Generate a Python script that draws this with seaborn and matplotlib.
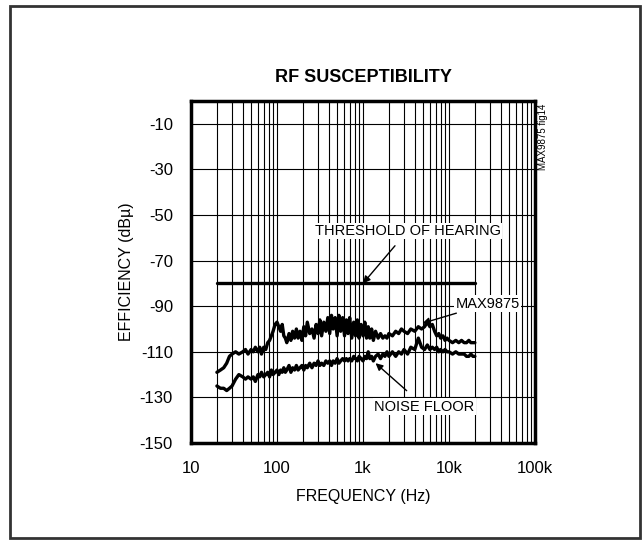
import matplotlib
matplotlib.use("Agg")
import matplotlib.pyplot as plt
import matplotlib.ticker as mticker
from matplotlib.patches import Rectangle
import pandas as pd
import seaborn as sns

# frequency points (Hz) shared by both measured curves
freq = [20, 22, 24, 26, 28, 30, 33, 36, 40, 43, 46, 50, 53, 56, 60, 63, 66, 70, 74, 78,
        82, 86, 90, 95, 100, 105, 110, 115, 120, 125, 130, 138, 145, 152, 160, 168, 176,
        185, 195, 205, 215, 225, 240, 255, 270, 285, 300, 315, 330, 350, 370, 390, 410,
        430, 450, 475, 500, 525, 550, 580, 610, 640, 670, 700, 740, 780, 820, 860, 900,
        950, 1000, 1050, 1100, 1150, 1200, 1260, 1320, 1400, 1500, 1600, 1700, 1800, 1900,
        2000, 2200, 2400, 2600, 2800, 3000, 3300, 3600, 4000, 4400, 4800, 5200, 5600, 6000,
        6400, 6800, 7200, 7600, 8000, 8500, 9000, 9500, 10000, 11000, 12000, 13000, 14000,
        15000, 16000, 17000, 18000, 19000, 20000]

max9875 = [-119, -118, -117, -115, -112, -111, -110, -111, -110, -109, -111, -109, -110,
           -108, -110, -108, -111, -108, -109, -106, -105, -103, -101, -98, -97, -99, -101,
           -98, -103, -104, -106, -102, -105, -101, -104, -100, -104, -101, -105, -99, -103,
           -97, -102, -100, -104, -98, -102, -96, -103, -97, -101, -95, -102, -94, -100,
           -95, -103, -94, -101, -95, -103, -96, -102, -95, -104, -97, -103, -96, -104,
           -98, -103, -97, -104, -99, -104, -100, -105, -101, -104, -102, -104, -103, -104,
           -102, -103, -101, -102, -100, -101, -102, -100, -101, -99, -100, -99, -97, -99,
           -98, -101, -103, -102, -104, -103, -105, -104, -105, -106, -105, -106, -105,
           -106, -106, -105, -106, -106, -106]

noise_floor = [-125, -126, -126, -127, -126, -125, -122, -120, -121, -122, -121, -122, -121,
               -123, -120, -121, -119, -121, -120, -119, -121, -118, -120, -119, -118, -120,
               -118, -119, -117, -119, -118, -116, -119, -117, -118, -116, -118, -117, -116,
               -118, -116, -117, -115, -117, -115, -116, -114, -116, -115, -116, -114, -115,
               -114, -116, -114, -115, -113, -115, -114, -113, -114, -113, -114, -113, -114,
               -112, -113, -114, -112, -113, -114, -112, -113, -110, -113, -112, -114, -112,
               -111, -113, -111, -112, -110, -112, -110, -112, -110, -111, -109, -111, -108,
               -109, -104, -108, -109, -107, -109, -108, -109, -108, -110, -109, -110, -109,
               -110, -110, -111, -110, -111, -111, -111, -112, -112, -111, -112, -112]

threshold_freq = [20, 20000]
threshold_db = [-80, -80]

y_ticks = [-150, -130, -110, -90, -70, -50, -30, -10]
x_ticks = [10, 100, 1000, 10000, 100000]
x_tick_labels = ["10", "100", "1k", "10k", "100k"]

sns.set_style("white")
plt.rcParams["font.family"] = ["Liberation Sans", "DejaVu Sans"]
plt.rcParams["axes.unicode_minus"] = False
for key in ["text.color", "axes.labelcolor", "xtick.color", "ytick.color"]:
    plt.rcParams[key] = "black"

df_meas = pd.DataFrame({"freq": freq + freq,
                        "db": max9875 + noise_floor,
                        "series": ["MAX9875"] * len(freq) + ["NOISE FLOOR"] * len(freq)})
df_thr = pd.DataFrame({"freq": threshold_freq, "db": threshold_db})

fig = plt.figure(figsize=(6.44, 5.44), dpi=100)
ax = fig.add_axes([0.2966, 0.1857, 0.5341, 0.6286])

sns.lineplot(data=df_meas, x="freq", y="db", units="series", estimator=None,
             color="black", lw=2.4, ax=ax, sort=False)
sns.lineplot(data=df_thr, x="freq", y="db", color="black", lw=2.4, ax=ax)

ax.set_xscale("log")
ax.set_xlim(10, 100000)
ax.set_ylim(-150, 0)
ax.set_xticks(x_ticks)
ax.set_xticklabels(x_tick_labels)
ax.xaxis.set_minor_locator(mticker.LogLocator(base=10, subs=range(2, 10)))
ax.xaxis.set_minor_formatter(mticker.NullFormatter())
ax.set_yticks(y_ticks)
ax.grid(True, which="both", color="black", lw=0.8)
ax.tick_params(axis="both", which="both", length=0, labelsize=12, pad=13)
for s in ax.spines.values():
    s.set_linewidth(2.5)
    s.set_color("black")

ax.set_xlabel("FREQUENCY (Hz)", fontsize=11.5, labelpad=9)
ax.set_ylabel("EFFICIENCY (dBµ)", fontsize=11.5, labelpad=4)
ax.set_title("RF SUSCEPTIBILITY", fontsize=13, fontweight="bold", pad=14)

box = dict(facecolor="white", edgecolor="none", pad=1)
ax.annotate("THRESHOLD OF HEARING", xy=(1000, -80), xytext=(3300, -57),
            ha="center", va="center", fontsize=10.5, bbox=box,
            arrowprops=dict(arrowstyle="-|>", color="black", lw=1, shrinkA=6, shrinkB=0))
ax.annotate("MAX9875", xy=(4900, -97.5), xytext=(28000, -89),
            ha="center", va="center", fontsize=10.5, bbox=box,
            arrowprops=dict(arrowstyle="-|>", color="black", lw=1, shrinkA=2, shrinkB=0))
ax.annotate("NOISE FLOOR", xy=(1400, -115), xytext=(5200, -134),
            ha="center", va="center", fontsize=10.5, bbox=box,
            arrowprops=dict(arrowstyle="-|>", color="black", lw=1, shrinkA=8, shrinkB=0))

fig.text(0.843, 0.81, "MAX9875 fig14", rotation=90, ha="center", va="top", fontsize=7)
fig.add_artist(Rectangle((0.016, 0.011), 0.978, 0.978, transform=fig.transFigure,
                         fill=False, lw=2, edgecolor="#333333"))

fig.savefig("out.png", dpi=100)
